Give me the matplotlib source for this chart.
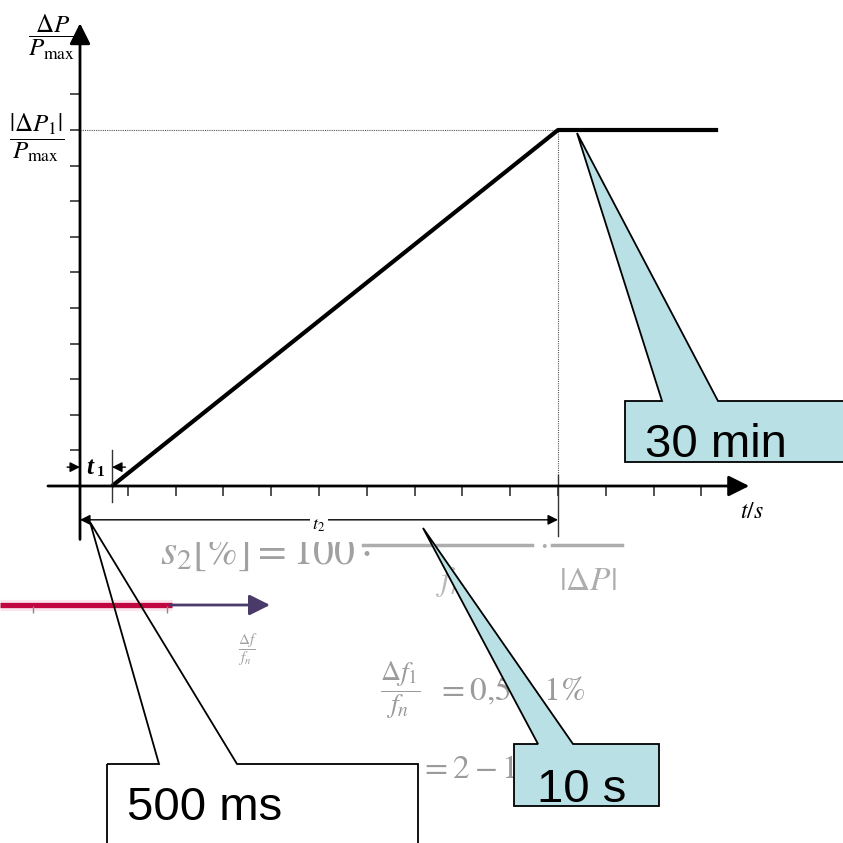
import matplotlib
matplotlib.use("Agg")
import matplotlib.pyplot as plt
from matplotlib.patches import Polygon, Rectangle

plt.rcParams['mathtext.fontset'] = 'stix'
plt.rcParams['font.family'] = ['Liberation Sans', 'DejaVu Sans']

# Power ramp: t in s, dP in tenths of |dP1|/Pmax
t1 = 0.67
t2 = 10.0
t_end = 13.35
p_level = 10.0
t_profile = [t1, t2, t_end]
p_profile = [0.0, p_level, p_level]
x_ticks = list(range(1, 14))
y_ticks = list(range(1, 12))

callout_texts = ["30 min", "10 s", "500 ms"]

# pixel scale of the diagram (origin at 80, 486)
PX_T = 47.8
PX_P = 35.6
X0, Y0 = 80, 486
W = H = 843

fig = plt.figure(figsize=(8.43, 8.43), dpi=100)
fig.patch.set_facecolor('white')

# ---------- faint formula sheet underneath ----------
bg = fig.add_axes([0, 0, 1, 1], zorder=0)
bg.set_xlim(0, W)
bg.set_ylim(H, 0)
bg.axis('off')
grey = '#8a8a8a'
bg.text(160, 564, r'$s_2[\%] = 100\cdot$', fontsize=30, color=grey, alpha=0.8,
        ha='left', va='baseline', fontweight='bold')
bg.plot([363, 532], [545, 545], color=grey, lw=2.5, alpha=0.7)
bg.text(450, 590, r'$f_n$', fontsize=24, color=grey, alpha=0.6, ha='center', va='baseline')
bg.text(543, 552, r'$\cdot$', fontsize=24, color=grey, alpha=0.7, ha='center', va='baseline')
bg.plot([552, 622], [545, 545], color=grey, lw=2.5, alpha=0.7)
bg.text(588, 590, r'$|\Delta P|$', fontsize=24, color=grey, alpha=0.7, ha='center', va='baseline')
bg.plot([0, 172], [605, 605], color='#f2b8cb', lw=8, alpha=0.35, solid_capstyle='butt')
bg.plot([0, 172], [605, 605], color='#c0073f', lw=3.8, solid_capstyle='butt')
bg.annotate('', xy=(270, 605), xytext=(170, 605),
            arrowprops=dict(arrowstyle='-|>,head_length=0.9,head_width=0.45', lw=2,
                            color='#4a3a6a', mutation_scale=14, shrinkA=0, shrinkB=0))
bg.vlines([33, 167], 606, 613, color=grey, lw=1)
bg.text(248, 650, r'$\dfrac{\Delta f}{f_n}$', fontsize=11, color=grey, alpha=0.8,
        ha='center', va='center')
bg.text(400, 690, r'$\dfrac{\Delta f_1}{f_n}$', fontsize=20, color=grey, alpha=0.85,
        ha='center', va='center')
bg.text(437, 700, r'$= 0{,}5 - 1\%$', fontsize=24, color=grey, alpha=0.85,
        ha='left', va='baseline', fontweight='bold')
bg.text(420, 778, r'$= 2 - 12\%$', fontsize=24, color=grey, alpha=0.85,
        ha='left', va='baseline')
# the diagram sheet is opaque above the formula
bg.add_patch(Rectangle((0, 0), W, 542, facecolor='white', edgecolor='none', zorder=5))

# ---------- the diagram ----------
ax = fig.add_axes([0, 0, 1, 1], zorder=1)
ax.set_facecolor('none')
ax.set_xlim(-X0 / PX_T, (W - X0) / PX_T)
ax.set_ylim((Y0 - H) / PX_P, Y0 / PX_P)
ax.axis('off')

axis_arrow = dict(arrowstyle='-|>,head_length=0.9,head_width=0.45', lw=2, color='black',
                  mutation_scale=14, shrinkA=0, shrinkB=0)
ax.annotate('', xy=(14.0, 0), xytext=(-0.67, 0), arrowprops=axis_arrow)
ax.annotate('', xy=(0, 13.0), xytext=(0, -1.5), arrowprops=axis_arrow)

ax.vlines(x_ticks, -0.28, 0, color='#333333', lw=1.2)
ax.hlines(y_ticks, -0.2, 0, color='#333333', lw=1.2)

# helper lines to the plateau
ax.plot([0, t2], [p_level, p_level], ls=(0, (1, 1)), lw=0.8, color='#555555')
ax.plot([t2, t2], [0, p_level], ls=(0, (1, 1)), lw=0.8, color='#555555')
ax.plot([t2, t2], [0.3, -1.4], lw=1, color='#333333')

ax.plot(t_profile, p_profile, color='black', lw=3, solid_capstyle='butt')

# t1 dimension
small_arrow = dict(arrowstyle='-|>,head_length=0.6,head_width=0.3', lw=1, color='black',
                   mutation_scale=10, shrinkA=0, shrinkB=0)
ax.plot([t1, t1], [1.0, -0.45], lw=1, color='#333333')
ax.annotate('', xy=(0, 0.53), xytext=(-0.27, 0.53), arrowprops=small_arrow)
ax.annotate('', xy=(t1, 0.53), xytext=(0.95, 0.53), arrowprops=small_arrow)
ax.text(0.14, 0.53, 't', family='Liberation Serif', style='italic', fontweight='bold',
        fontsize=18, ha='left', va='center')
ax.text(0.36, 0.38, '1', family='Liberation Serif', fontweight='bold',
        fontsize=11, ha='left', va='center')

# t2 dimension
ax.annotate('', xy=(0, -0.95), xytext=(t2, -0.95),
            arrowprops=dict(arrowstyle='<|-|>,head_length=0.6,head_width=0.3', lw=1,
                            color='black', mutation_scale=10, shrinkA=0, shrinkB=0))
ax.text(t2 / 2, -1.1, r'$t_2$', fontsize=13, ha='center', va='center',
        bbox=dict(facecolor='white', edgecolor='none', pad=1.5))

# axis labels
ax.text(-28 / PX_T, (Y0 - 37) / PX_P, r'$\dfrac{\Delta P}{P_{\max}}$', fontsize=18,
        ha='center', va='center')
ax.text(-43 / PX_T, (Y0 - 138) / PX_P, r'$\dfrac{|\Delta P_1|}{P_{\max}}$', fontsize=18,
        ha='center', va='center')
ax.text((752 - X0) / PX_T, (Y0 - 512) / PX_P, r'$t/s$', fontsize=17,
        ha='center', va='center')

# ---------- callouts ----------
ov = fig.add_axes([0, 0, 1, 1], zorder=2)
ov.set_facecolor('none')
ov.set_xlim(0, W)
ov.set_ylim(H, 0)
ov.axis('off')

teal = '#b9e0e4'
callouts = [
    ([(625, 401), (662, 401), (577, 133), (718, 401), (850, 401), (850, 462), (625, 462)],
     teal, (645, 457)),
    ([(514, 744), (538, 744), (423, 528), (573, 744), (659, 744), (659, 806), (514, 806)],
     teal, (537, 802)),
    ([(107, 764), (159, 764), (90, 522), (237, 764), (418, 764), (418, 850), (107, 850)],
     'none', (127, 820)),
]
for (pts, fc, (tx, ty)), label in zip(callouts, callout_texts):
    ov.add_patch(Polygon(pts, closed=True, facecolor=fc, edgecolor='black', lw=1.3))
    ov.text(tx, ty, label, fontsize=34, ha='left', va='baseline', color='black')

fig.savefig('out.png', dpi=100)
